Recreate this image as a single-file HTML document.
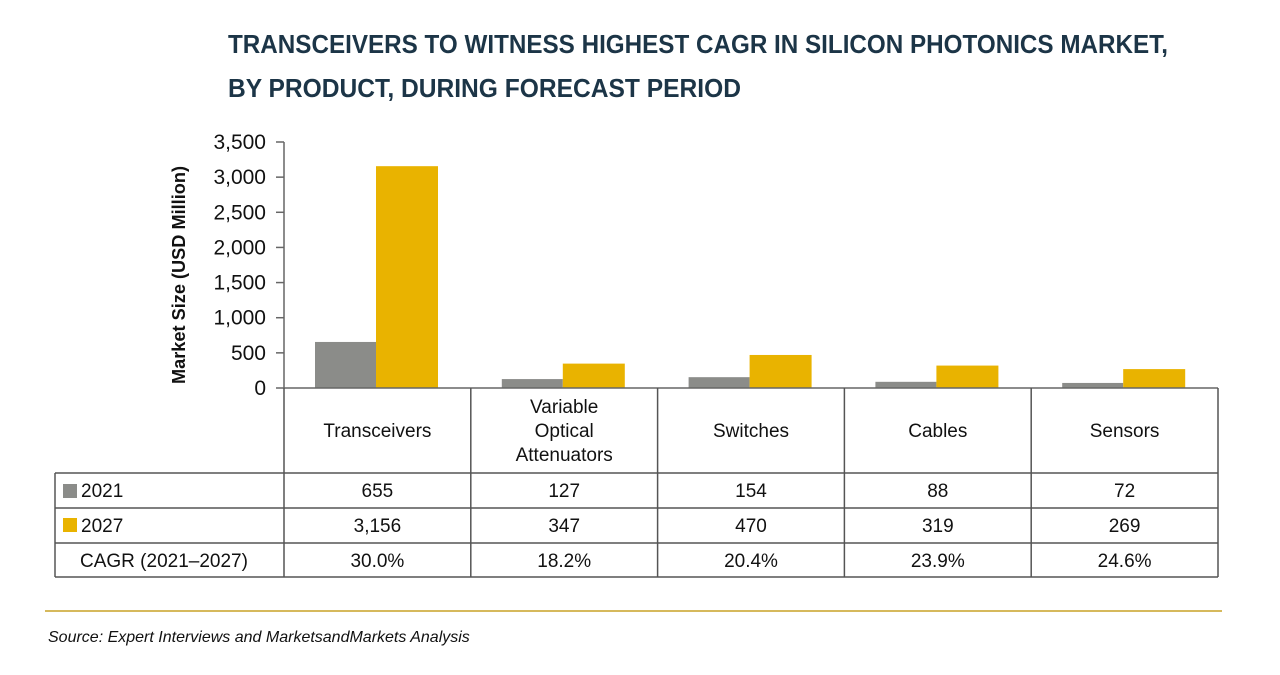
<!DOCTYPE html>
<html><head><meta charset="utf-8"><style>
body{margin:0;background:#fff;width:1280px;height:670px;overflow:hidden;font-family:"Liberation Sans",sans-serif}
svg text{font-family:"Liberation Sans",sans-serif}
</style></head><body>
<svg width="1280" height="670" xmlns="http://www.w3.org/2000/svg" id="chart">
<g fill="#1c3547" font-weight="bold" font-size="26" style="font-family:'Liberation Sans Narrow','Liberation Sans',sans-serif">
<text x="228" y="53" textLength="940" lengthAdjust="spacingAndGlyphs">TRANSCEIVERS TO WITNESS HIGHEST CAGR IN SILICON PHOTONICS MARKET,</text>
<text x="228" y="97" textLength="513" lengthAdjust="spacingAndGlyphs">BY PRODUCT, DURING FORECAST PERIOD</text>
</g>
<text transform="translate(185,275) rotate(-90)" text-anchor="middle" font-size="18" font-weight="bold" fill="#111" textLength="218" lengthAdjust="spacingAndGlyphs">Market Size (USD Million)</text>
<g id="yaxis"></g>
<g id="bars"></g>
<g id="table"></g>
<line x1="45" y1="611" x2="1222" y2="611" stroke="#c9a227" stroke-width="1.5"/>
<text x="48" y="642" font-size="16" font-style="italic" fill="#111">Source: Expert Interviews and MarketsandMarkets Analysis</text>
</svg>
<script>
const categories=["Transceivers","Variable Optical Attenuators","Switches","Cables","Sensors"];
const values2021=[655,127,154,88,72];
const values2027=[3156,347,470,319,269];
const cagr=["30.0%","18.2%","20.4%","23.9%","24.6%"];
const yTicks=[0,500,1000,1500,2000,2500,3000,3500];
const NS="http://www.w3.org/2000/svg";
const x0=284,x1=1218,yBase=388,yTop=142,yMax=3500;
const colW=(x1-x0)/categories.length;
function y(v){return yBase-(v/yMax)*(yBase-yTop);}
function colX(i){return x0+i*colW;}
function mk(tag,attrs,parent,txt){const e=document.createElementNS(NS,tag);for(const k in attrs)e.setAttribute(k,attrs[k]);if(txt!==undefined)e.textContent=txt;parent.appendChild(e);return e;}
const ya=document.getElementById('yaxis');
const axl=mk('line',{x1:x0,y1:yTop,x2:x0,y2:yBase,stroke:'#666','stroke-width':1.5},ya);


yTicks.forEach(t=>{
  const l=mk('line',{x1:x0-8,y1:y(t),x2:x0,y2:y(t),stroke:'#666','stroke-width':1.5},ya);
  
  
  const tx=mk('text',{x:x0-18,y:y(t)+7,'text-anchor':'end','font-size':21,fill:'#111'},ya,t.toLocaleString('en-US'));
  
  
});
const bg=document.getElementById('bars');
categories.forEach((c,i)=>{
  const bx=colX(i)+31;
  const b1=mk('rect',{x:bx,y:y(values2021[i]),width:61,height:yBase-y(values2021[i]),fill:'#8b8c89'},bg);
  
  
  const b2=mk('rect',{x:bx+61,y:y(values2027[i]),width:62,height:yBase-y(values2027[i]),fill:'#e9b300'},bg);
  
  
});
const base=mk('line',{x1:x0,y1:yBase,x2:x1,y2:yBase,stroke:'#666','stroke-width':1.5},bg);


const tb=document.getElementById('table');
const rows=[473,508,543,577];
const st={stroke:'#555','stroke-width':1.5};
for(let i=0;i<=categories.length;i++){
  const v=mk('line',Object.assign({x1:colX(i),y1:yBase,x2:colX(i),y2:577},st),tb);
  
  
}
rows.forEach(r=>{
  const h=mk('line',Object.assign({x1:55,y1:r,x2:x1,y2:r},st),tb);
  
  
});
const lb=mk('line',Object.assign({x1:55,y1:473,x2:55,y2:577},st),tb);


categories.forEach((c,i)=>{
  const cx=colX(i)+colW/2;
  const words=c.split(' ');
  const lines=words.length>1?words:[c];
  const startY=430-(lines.length-1)*12+7;
  lines.forEach((w,k)=>{
    const t=mk('text',{x:cx,y:startY+k*24,'text-anchor':'middle','font-size':19,fill:'#111'},tb,w);
    
    
  });
  [[values2021[i].toLocaleString('en-US'),497],[values2027[i].toLocaleString('en-US'),532],[cagr[i],567]].forEach(([s,yy])=>{
    const t=mk('text',{x:cx,y:yy,'text-anchor':'middle','font-size':19,fill:'#111'},tb,s);
    
    
  });
});
const s1=mk('rect',{x:63,y:484,width:14,height:14,fill:'#8b8c89'},tb);


const s2=mk('rect',{x:63,y:518,width:14,height:14,fill:'#e9b300'},tb);


const l1=mk('text',{x:81,y:497,'font-size':19,fill:'#111'},tb,'2021');


const l2=mk('text',{x:81,y:532,'font-size':19,fill:'#111'},tb,'2027');


const l3=mk('text',{x:80,y:567,'font-size':19,fill:'#111'},tb,'CAGR (2021–2027)');


</script>
</body></html>
